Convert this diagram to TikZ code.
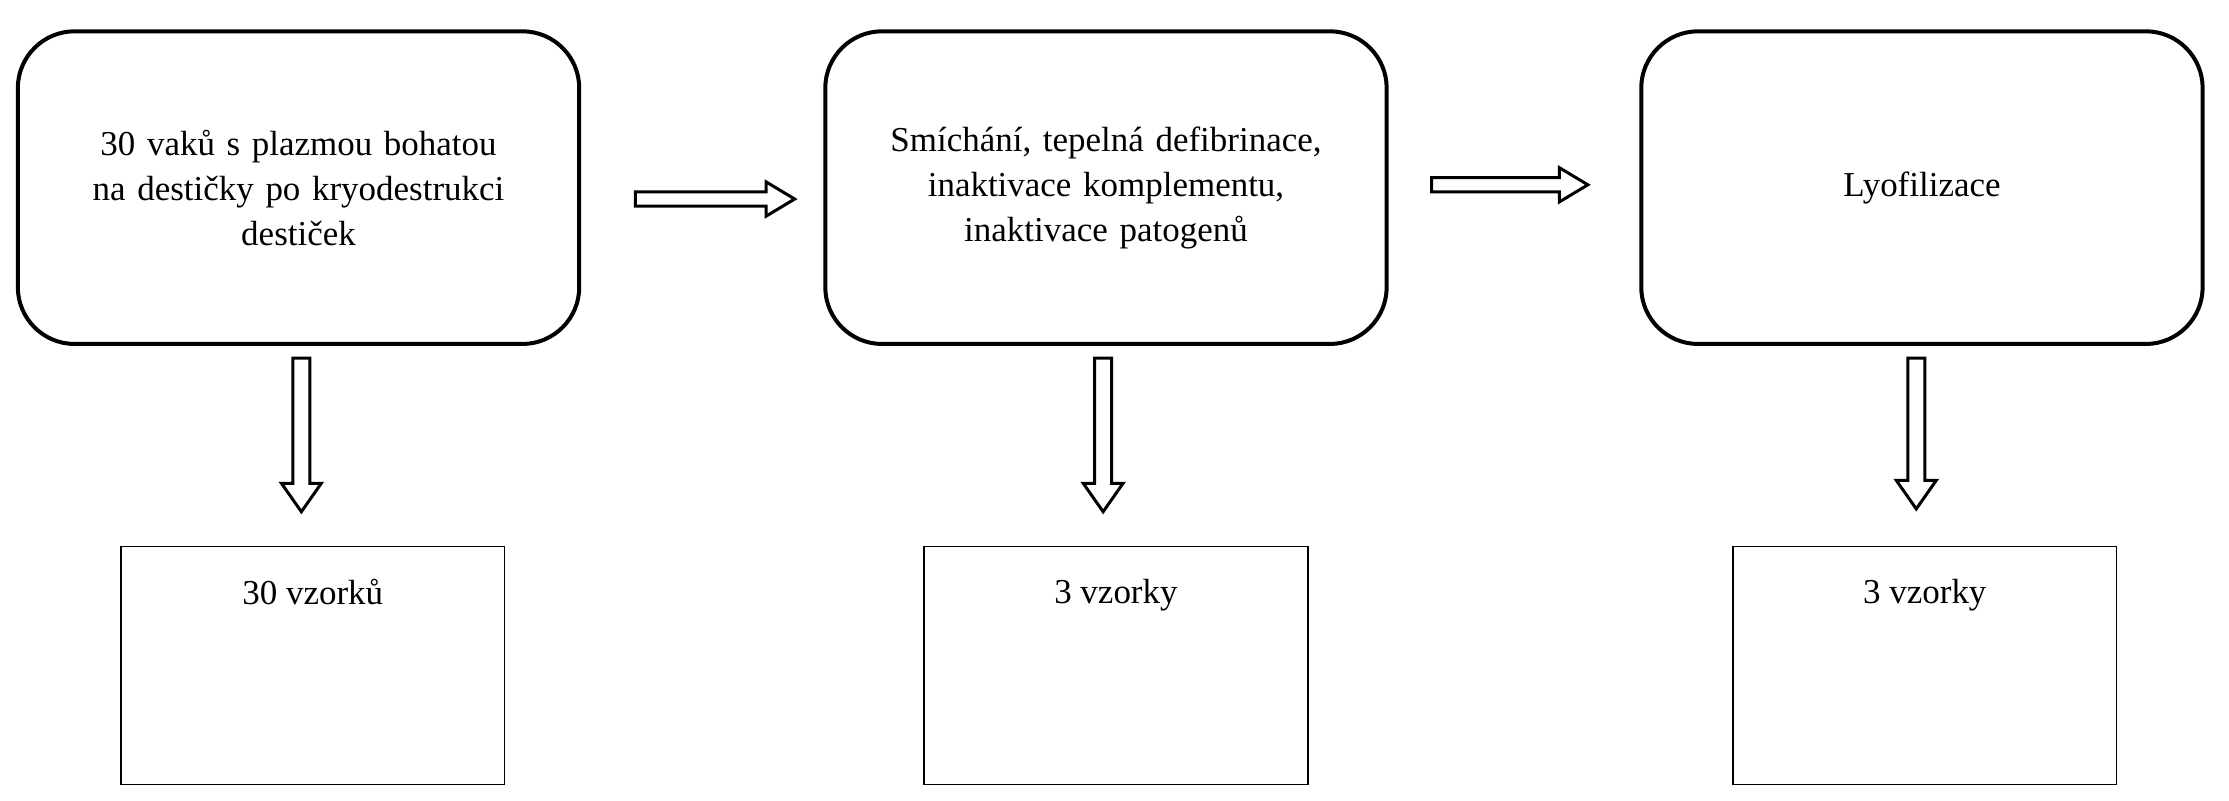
\documentclass[tikz,border=0pt]{standalone}
\usepackage{fontspec}
\setmainfont{Liberation Serif}
\tikzset{
  stage/.style={draw, line width=1.6pt, rounded corners=0.8cm, minimum width=7.9cm, minimum height=4.4cm, align=center, text width=7cm},
  sample/.style={draw, line width=0.6pt, minimum width=5.4cm, minimum height=3.35cm},
  sampletext/.style={anchor=north},
  blockarrow/.style={draw, line width=1.2pt, line join=miter}
}
\begin{document}
\begin{tikzpicture}[x=0.02cm, y=-0.02cm, font=\fontsize{14}{18}\selectfont]
\useasboundingbox (0,0) rectangle (1568,563);
% stages
\node[stage] (S1) at (210,132) {30 vaků s plazmou bohatou\\na destičky po kryodestrukci\\destiček};
\node[stage] (S2) at (778,132) {Smíchání, tepelná defibrinace,\\inaktivace komplementu,\\inaktivace patogenů};
\node[stage] (S3) at (1352,132) {Lyofilizace};
% samples
\node[sample] (V1) at (220,468) {};
\node[sample] (V2) at (785,468) {};
\node[sample] (V3) at (1354,468) {};
\node[sampletext] (T1) at (V1.north) [yshift=-0.35cm] {30 vzorků};
\node[sampletext] (T2) at (V2.north) [yshift=-0.35cm] {3 vzorky};
\node[sampletext] (T3) at (V3.north) [yshift=-0.35cm] {3 vzorky};
% arrows
\coordinate (A1) at (447,140);
\coordinate (A2) at (1007,130);
\draw[blockarrow] (A1) ++(0,-5) -- ++(92,0) -- ++(0,-7) -- ++(20,12) -- ++(-20,12) -- ++(0,-7) -- ++(-92,0) -- cycle;
\draw[blockarrow] (A2) ++(0,-5) -- ++(90,0) -- ++(0,-7) -- ++(20,12) -- ++(-20,12) -- ++(0,-7) -- ++(-90,0) -- cycle;
\foreach \ax/\ay/\len in {212/252/88, 776/252/88, 1348/252/86}{
  \coordinate (D) at (\ax,\ay);
  \draw[blockarrow] (D) ++(-6,0) -- ++(12,0) -- ++(0,\len) -- ++(8,0) -- ++(-14,20) -- ++(-14,-20) -- ++(8,0) -- cycle;
}
\end{tikzpicture}
\end{document}
